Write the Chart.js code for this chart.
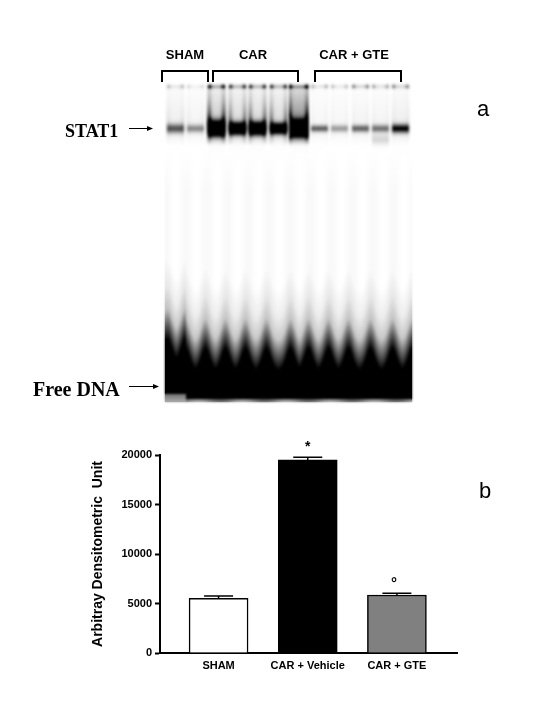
<!DOCTYPE html>
<html>
<head>
<meta charset="utf-8">
<style>
  html, body { margin: 0; padding: 0; background: #fff; }
  canvas { display: block; }
</style>
<script src="https://cdn.jsdelivr.net/npm/chart.js@4"></script>
</head>
<body>
<canvas id="chart" width="540" height="720"></canvas>
<script>
// panel b
const categories = ['SHAM', 'CAR + Vehicle', 'CAR + GTE'];
const densityValues = [5520, 19500, 5860];
const densityErrors = [240, 280, 170];
const barColors = ['#ffffff', '#000000', '#808080'];
const significance = ['', '*', '°'];
const yTicks = [0, 5000, 10000, 15000, 20000];

// panel a, darkness of each of the 12 gel lanes (0 white, above 1 saturated)
const laneCentres = [175, 195, 216, 237, 257, 278, 298, 319, 339, 360, 380, 400];
const stat1Band = [0.62, 0.42, 2.2, 1.9, 1.9, 1.7, 2.4, 0.6, 0.36, 0.58, 0.52, 0.95];
const stat1Width = [4.5, 3.8, 7, 5.5, 6, 5, 7.5, 3.2, 3.4, 3.4, 3.6, 4.2];
const wellDark = [0.22, 0.12, 0.85, 0.7, 0.7, 0.7, 1, 0.25, 0.2, 0.4, 0.3, 0.4];
const laneSmear = [0.05, 0.03, 0.6, 0.36, 0.42, 0.36, 0.7, 0.02, 0.02, 0.02, 0.02, 0.03];
const laneFill = [0.03, 0.02, 0.1, 0.07, 0.07, 0.07, 0.22, 0.015, 0.015, 0.02, 0.02, 0.03];
const freeDnaValleys = [167, 185, 205, 225, 245, 266, 290, 308, 328, 348, 370, 392, 412];
const groupLabels = ['SHAM', 'CAR', 'CAR + GTE'];

const SANS = '"Liberation Sans", Arial, sans-serif';
const SERIF = '"Liberation Serif", "Times New Roman", serif';

function clamp(v) { return Math.max(0, Math.min(1, v)); }

function gelDarkness(x, y) {
  let d = 0;
  // lanes and STAT1 band
  let lane = 0;
  laneCentres.forEach((c, i) => {
    if (Math.abs(x - c) < Math.abs(x - laneCentres[lane])) lane = i;
  });
  const dx = Math.abs(x - laneCentres[lane]);
  const hw = lane === 6 ? 10 : 8.5;
  const inLane = clamp((hw + 1.5 - dx) / 3);
  const edge = Math.exp(-Math.pow((dx - hw + 1) / 2.5, 2));
  if (y > 85 && y < 150) {
    const fade = clamp((145 - y) / 20);
    const grow = clamp((y - 85) / 35);
    d += laneFill[lane] * inLane * fade * (0.5 + 1.5 * grow);
    d += laneSmear[lane] * edge * fade * (0.2 + grow * grow);
  }
  d += wellDark[lane] * inLane * (0.35 + edge) * Math.exp(-Math.pow((y - 86) / 2, 2));
  const by = y - 128;
  d += stat1Band[lane] * inLane * Math.exp(-Math.pow(by / stat1Width[lane], 2));
  if (by > 0) d += 0.05 * stat1Band[lane] * inLane * Math.exp(-by / 8);
  // extra smear under lane 11
  d += 0.14 * inLane * (lane === 10 ? Math.exp(-Math.pow((y - 139) / 5, 2)) : 0);

  // free DNA front, dark between lanes, paler up the lane middles
  let nearest = 99;
  freeDnaValleys.forEach(v => { nearest = Math.min(nearest, Math.abs(x - v)); });
  const shift = 22 * Math.exp(-Math.pow(nearest / 6, 2));
  const firstLane = x < 186 ? 10 : 0;
  const yy = y + shift + firstLane;
  let f = 0;
  if (yy > 370) f = 1;
  else if (yy > 340) f = 0.22 + 0.78 * (yy - 340) / 30;
  else if (yy > 318) f = 0.07 + 0.15 * (yy - 318) / 22;
  else if (yy > 290) f = 0.07 * (yy - 290) / 28;
  d += f;

  // very faint vertical streaks mid gel
  const haze = clamp((y - 150) / 40) * clamp((330 - y) / 30);
  d += haze * 0.012 * (1 + Math.cos((x - 165) / 3.3));

  d = clamp(d);
  // pale strip along the bottom edge
  if (y >= 399) d = 0.62 + 0.12 * Math.cos(x / 7) - (y - 399) * 0.12;
  if (x < 186 && y >= 394) d = 0.55 - (y - 394) * 0.03;
  return d;
}

function buildGel() {
  const x0 = 165, y0 = 82, w = 247, h = 320;
  const off = document.createElement('canvas');
  off.width = w; off.height = h;
  const octx = off.getContext('2d');
  const img = octx.createImageData(w, h);
  for (let j = 0; j < h; j++) {
    for (let i = 0; i < w; i++) {
      const v = 255 * (1 - gelDarkness(x0 + i, y0 + j));
      const k = (j * w + i) * 4;
      img.data[k] = img.data[k + 1] = img.data[k + 2] = v;
      img.data[k + 3] = 255;
    }
  }
  octx.putImageData(img, 0, 0);
  return { off, x0, y0 };
}

function text(ctx, str, x, y, font, align) {
  ctx.font = font;
  ctx.textAlign = align || 'center';
  ctx.textBaseline = 'middle';
  ctx.fillStyle = '#000';
  ctx.fillText(str, x, y);
}

function arrow(ctx, x1, x2, y) {
  ctx.strokeStyle = '#000';
  ctx.fillStyle = '#000';
  ctx.lineWidth = 1;
  ctx.beginPath();
  ctx.moveTo(x1, y + 0.5);
  ctx.lineTo(x2 - 4, y + 0.5);
  ctx.stroke();
  ctx.beginPath();
  ctx.moveTo(x2, y + 0.5);
  ctx.lineTo(x2 - 6, y - 2);
  ctx.lineTo(x2 - 6, y + 3);
  ctx.closePath();
  ctx.fill();
}

const gel = buildGel();

const gelPanel = {
  id: 'gelPanel',
  beforeDraw(chart) {
    const ctx = chart.ctx;
    ctx.save();
    ctx.fillStyle = '#fff';
    ctx.fillRect(0, 0, chart.width, chart.height);
    ctx.drawImage(gel.off, gel.x0, gel.y0);
    // soften it, the sharp copy underneath keeps the outer edge crisp
    ctx.filter = 'blur(1px)';
    ctx.drawImage(gel.off, gel.x0, gel.y0);
    ctx.filter = 'none';

    // group brackets
    ctx.strokeStyle = '#000';
    ctx.lineWidth = 2;
    [[162, 208], [213, 298], [315, 401]].forEach(([a, b]) => {
      ctx.beginPath();
      ctx.moveTo(a, 82);
      ctx.lineTo(a, 71);
      ctx.lineTo(b, 71);
      ctx.lineTo(b, 82);
      ctx.stroke();
    });
    text(ctx, groupLabels[0], 185, 55, 'bold 13px ' + SANS);
    text(ctx, groupLabels[1], 253, 55, 'bold 13px ' + SANS);
    text(ctx, groupLabels[2], 354, 55, 'bold 13px ' + SANS);

    text(ctx, 'STAT1', 65, 132, 'bold 18px ' + SERIF, 'left');
    arrow(ctx, 129, 153, 128);
    text(ctx, 'Free DNA', 33, 391, 'bold 20px ' + SERIF, 'left');
    arrow(ctx, 129, 159, 386);

    text(ctx, 'a', 483, 110, '22px ' + SANS);
    text(ctx, 'b', 485, 492, '22px ' + SANS);
    ctx.restore();
  },
};

// upper error bars and the significance marks, from the chart's scales
const errorBars = {
  id: 'errorBars',
  afterDatasetsDraw(chart) {
    const ctx = chart.ctx;
    const xs = chart.scales.x, ys = chart.scales.y;
    ctx.save();
    ctx.strokeStyle = '#000';
    ctx.lineWidth = 1.5;
    densityValues.forEach((v, i) => {
      const x = xs.getPixelForValue(i + 1);
      const top = ys.getPixelForValue(v + densityErrors[i]);
      ctx.beginPath();
      ctx.moveTo(x, ys.getPixelForValue(v));
      ctx.lineTo(x, top);
      ctx.moveTo(x - 14.5, top);
      ctx.lineTo(x + 14.5, top);
      ctx.stroke();
      if (significance[i] === '*') {
        text(ctx, '*', x, top - 10, 'bold 14px ' + SANS);
      } else if (significance[i]) {
        text(ctx, significance[i], x - 3, top - 9, 'bold 15px ' + SANS);
      }
    });
    ctx.restore();
  },
};

new Chart(document.getElementById('chart'), {
  type: 'bar',
  data: {
    datasets: [{
      data: densityValues.map((v, i) => ({ x: i + 1, y: v })),
      backgroundColor: barColors,
      borderColor: '#000',
      borderWidth: 1.5,
      barThickness: 59,
    }],
  },
  options: {
    responsive: false,
    animation: false,
    layout: { padding: { left: 90, right: 83, top: 455, bottom: 0 } },
    plugins: { legend: { display: false }, tooltip: { enabled: false } },
    scales: {
      x: {
        type: 'linear',
        offset: false,
        min: 0.343,
        max: 3.674,
        afterFit: s => { s.height = 67; },
        afterBuildTicks: s => { s.ticks = categories.map((c, i) => ({ value: i + 1 })); },
        grid: { display: false, drawTicks: false },
        border: { color: '#000', width: 2 },
        ticks: {
          autoSkip: false,
          maxRotation: 0,
          padding: 6,
          color: '#000',
          font: { family: SANS, size: 11, weight: 'bold' },
          callback: v => categories[v - 1],
        },
      },
      y: {
        min: 0,
        max: 20000,
        afterFit: s => { s.width = 70; },
        afterBuildTicks: s => { s.ticks = yTicks.map(v => ({ value: v })); },
        grid: { drawOnChartArea: false, drawTicks: true, tickLength: 5, tickColor: '#000', tickWidth: 2 },
        border: { color: '#000', width: 2 },
        ticks: {
          padding: 3,
          color: '#000',
          font: { family: SANS, size: 11, weight: 'bold' },
          callback: v => String(v),
        },
        title: {
          display: true,
          text: 'Arbitray Densitometric  Unit',
          color: '#000',
          font: { family: SANS, size: 14, weight: 'bold' },
          padding: 0,
        },
      },
    },
  },
  plugins: [gelPanel, errorBars],
});
</script>
</body>
</html>
